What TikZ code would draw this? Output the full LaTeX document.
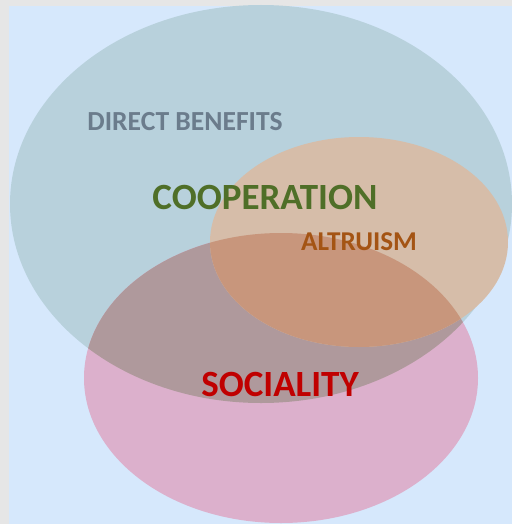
\documentclass[tikz,border=0pt]{standalone}
\usepackage{fontspec}
\setmainfont{Carlito}

\definecolor{frame}{RGB}{230,230,230}
\definecolor{sky}{RGB}{214,232,252}
\definecolor{coop}{RGB}{184,209,220}
\definecolor{altr}{RGB}{214,189,169}
\definecolor{soci}{RGB}{220,176,204}
\definecolor{mauve}{RGB}{175,153,156}
\definecolor{rust}{RGB}{200,150,124}

\tikzset{lbl/.style={font=\bfseries, inner sep=0pt}}

\begin{document}
\begin{tikzpicture}[x=0.5pt,y=-0.5pt]

  \fill[frame] (0,0) rectangle (512,524);
  \fill[sky] (9,6) rectangle (512,524);

  \coordinate (c) at (261,204);
  \coordinate (a) at (359,242);
  \coordinate (s) at (281,378);

  \fill[coop] (c) ellipse [x radius=251, y radius=199];
  \fill[soci] (s) ellipse [x radius=197, y radius=145];
  \begin{scope}
    \clip (s) ellipse [x radius=197, y radius=145];
    \fill[mauve] (c) ellipse [x radius=251, y radius=199];
  \end{scope}
  \fill[altr] (a) ellipse [x radius=149, y radius=105];
  \begin{scope}
    \clip (a) ellipse [x radius=149, y radius=105];
    \fill[rust] (s) ellipse [x radius=197, y radius=145];
  \end{scope}

  \node[lbl, text={rgb,255:red,107;green,124;blue,140}, font=\fontsize{13.8}{14}\bfseries] (direct) at (185,122) {DIRECT BENEFITS};
  \node[lbl, text={rgb,255:red,79;green,111;blue,40}, font=\fontsize{18.5}{19}\bfseries] (cooperation) at (265,197) {COOPERATION};
  \node[lbl, text={rgb,255:red,164;green,84;blue,20}, font=\fontsize{13.6}{14}\bfseries] (altruism) at (359,242) {ALTRUISM};
  \node[lbl, text={rgb,255:red,192;green,0;blue,0}, font=\fontsize{18.5}{19}\bfseries] (sociality) at (280,384) {SOCIALITY};

\end{tikzpicture}
\end{document}
